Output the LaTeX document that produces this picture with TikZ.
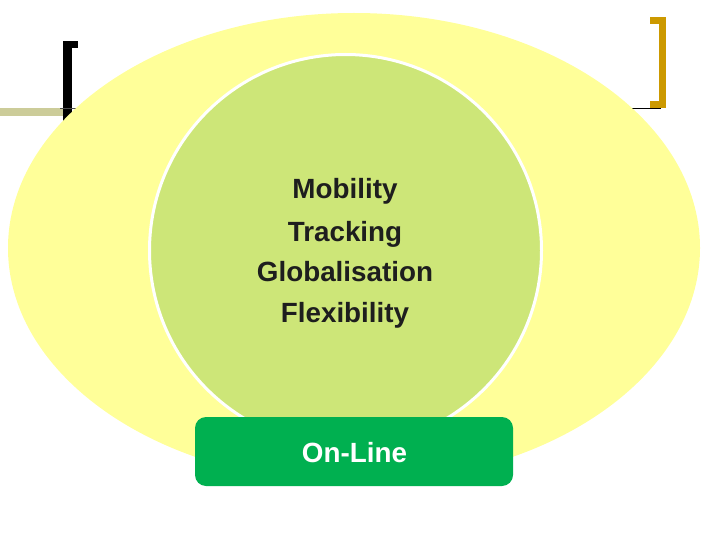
\documentclass[tikz,border=0pt]{standalone}
\usepackage{fontspec}
\setmainfont{Liberation Sans}
\usetikzlibrary{shapes.geometric}
\definecolor{ellyellow}{RGB}{255,255,153}
\definecolor{circgreen}{RGB}{205,230,120}
\definecolor{boxgreen}{RGB}{0,176,80}
\definecolor{brgold}{RGB}{204,153,0}
\definecolor{khaki}{RGB}{204,204,153}
\definecolor{txtdark}{RGB}{30,30,30}
\begin{document}
\begin{tikzpicture}[x=1pt,y=-1pt,
  lbl/.style={font=\fontsize{27.8}{33}\selectfont\bfseries, text=txtdark, anchor=base, inner sep=0pt},
  boxlbl/.style={font=\fontsize{27.8}{33}\selectfont\bfseries, text=white, anchor=base, inner sep=0pt}]
\useasboundingbox (0,0) rectangle (720,540);
% left bracket and khaki bar
\fill[khaki] (0,108) rectangle (63,116);
\fill[black] (63,41) rectangle (72,124);
\fill[black] (63,41) rectangle (78,48);
\draw[black!70, line width=0.8pt] (60,108) -- (78,108);
% right bracket
\draw[black, line width=0.8pt] (631,108) -- (661,108);
\fill[brgold] (659,17) rectangle (666,108);
\fill[brgold] (650,17) rectangle (666,24);
\fill[brgold] (650,101) rectangle (666,108);
% ellipse
\node[draw=none, fill=ellyellow, ellipse, minimum width=692pt, minimum height=470pt, inner sep=0pt] (ell) at (354,248) {};
% circle
\node[circle, fill=circgreen, draw=white, line width=3pt, minimum size=392pt, inner sep=0pt] (circ) at (345.5,250.5) {};
% text
\node[lbl] (l1) at (345,199) {Mobility};
\node[lbl] (l2) at (345,241) {Tracking};
\node[lbl] (l3) at (345,281.5) {Globalisation};
\node[lbl] (l4) at (345,322) {Flexibility};
% bottom box
\fill[boxgreen, rounded corners=11pt] (195,417) rectangle (513,486);
\node[boxlbl] (online) at (354.5,462) {On-Line};
\end{tikzpicture}
\end{document}
